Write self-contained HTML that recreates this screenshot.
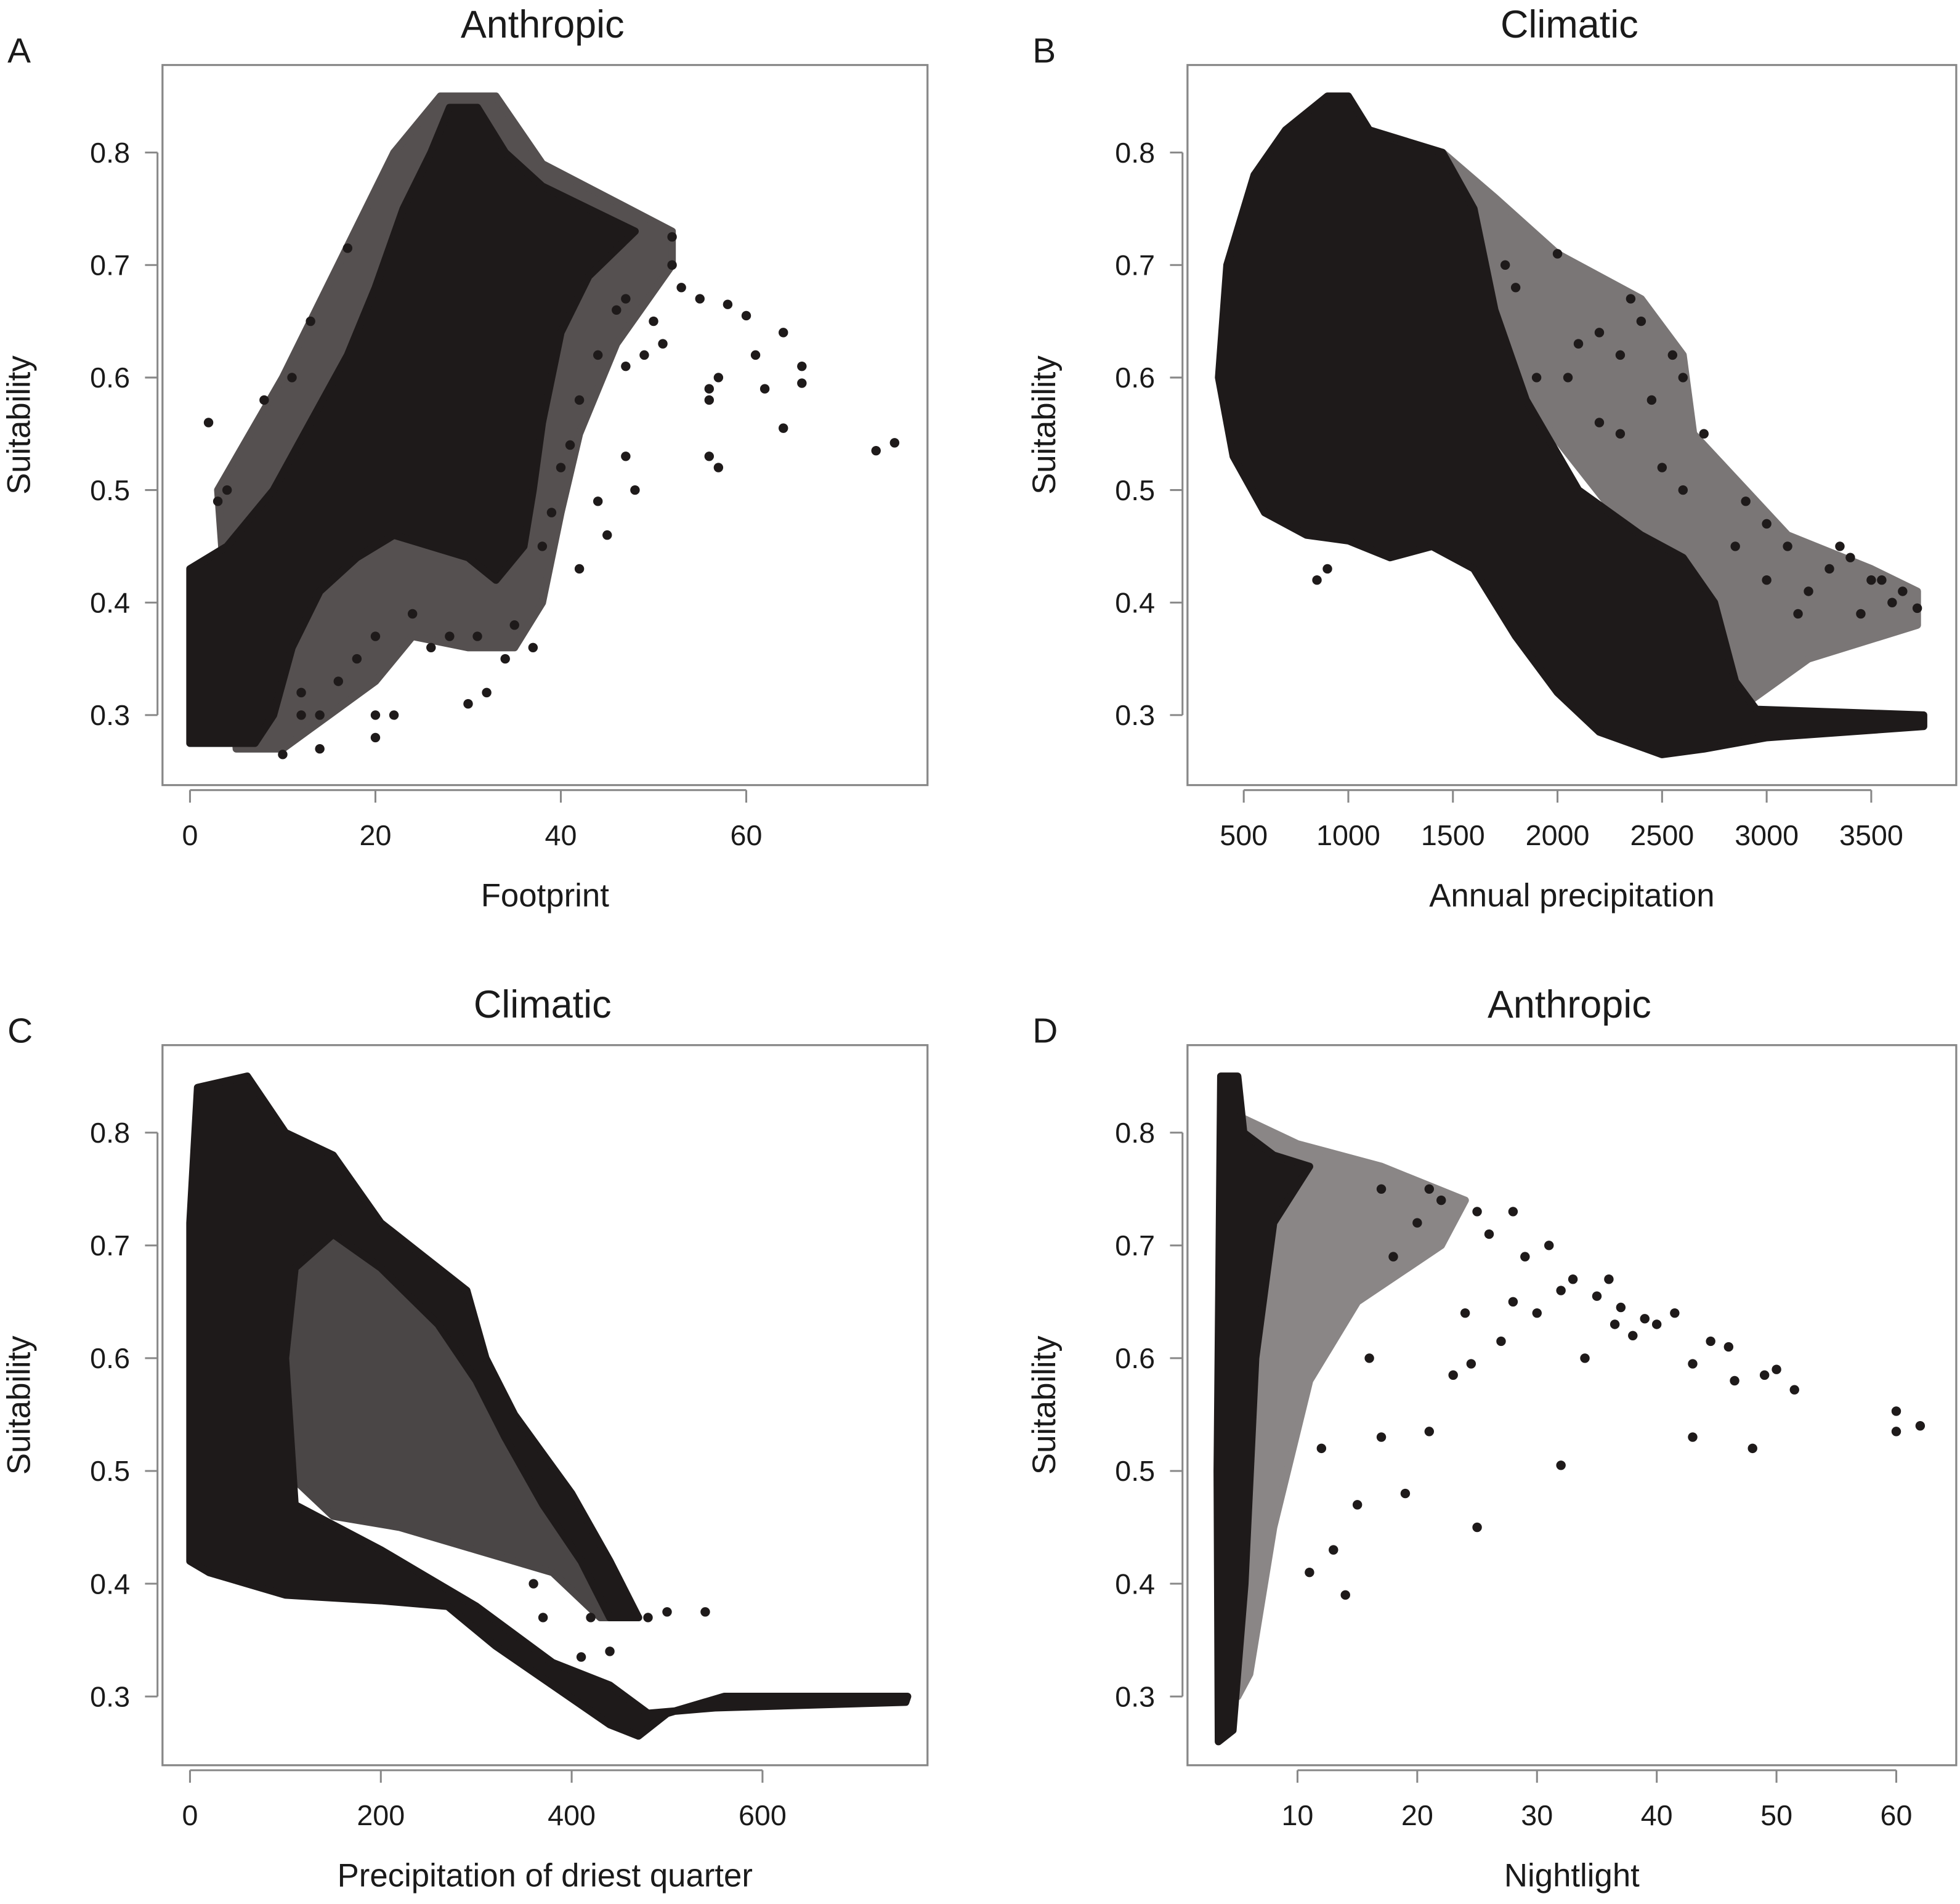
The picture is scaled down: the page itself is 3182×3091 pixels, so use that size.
<!DOCTYPE html>
<html><head><meta charset="utf-8"><style>
html,body{margin:0;padding:0;background:#fff;}
svg{display:block;}
text{font-family:"Liberation Sans",sans-serif;fill:#1a1a1a;}
</style></head><body>
<svg id="chart" width="3182" height="3091" viewBox="0 0 1568 1523" preserveAspectRatio="none" xmlns="http://www.w3.org/2000/svg"></svg>
<script>
// ---- Panel A data (Footprint) ----
const aMid = [[3,0.5],[10,0.6],[16,0.7],[22,0.8],[27,0.85],[33,0.85],[38,0.79],[45,0.76],[52,0.73],[52,0.7],[46,0.63],[42,0.55],[40,0.48],[38,0.4],[35,0.36],[30,0.36],[24,0.37],[20,0.33],[15,0.3],[10,0.27],[5,0.27]];
const aDense = [[0,0.275],[0,0.43],[4,0.45],[9,0.5],[13,0.56],[17,0.62],[20,0.68],[23,0.75],[26,0.8],[28,0.84],[31,0.84],[34,0.8],[38,0.77],[43,0.75],[48,0.73],[43,0.69],[40,0.64],[38,0.56],[37,0.5],[36,0.45],[33,0.42],[30,0.44],[26,0.45],[22,0.46],[18,0.44],[14,0.41],[11,0.36],[9,0.3],[7,0.275],[3,0.275]];
const aPts = [[74,0.535],[76,0.542],[66,0.61],[66,0.595],[64,0.64],[60,0.655],[57,0.52],[56,0.53],[56,0.58],[52,0.725],[48,0.5],[47,0.53],[42,0.43],[37,0.36],[32,0.32],[30,0.31],[20,0.28],[14,0.27],[10,0.265],[2,0.56],[22,0.3],[20,0.3],[47,0.61],[50,0.65],[53,0.68],[55,0.67],[62,0.59],[64,0.555],[40,0.52],[44,0.49],[41,0.54],[35,0.38],[28,0.37],[18,0.35],[16,0.33],[44,0.62],[58,0.665],[45,0.46],[42,0.58],[46,0.66],[49,0.62],[51,0.63],[56,0.59],[38,0.45],[39,0.48],[34,0.35],[31,0.37],[26,0.36],[24,0.39],[20,0.37],[14,0.3],[12,0.32],[17,0.715],[13,0.65],[11,0.6],[8,0.58],[4,0.5],[3,0.49],[12,0.3],[47,0.67],[52,0.7],[61,0.62],[57,0.6]];
const aXT=[0,20,40,60], yT=[0.3,0.4,0.5,0.6,0.7,0.8];
// ---- Panel B data (Annual precipitation) ----
const bMid = [[1450,0.8],[1700,0.76],[2000,0.71],[2400,0.67],[2600,0.62],[2650,0.55],[2900,0.5],[3100,0.46],[3500,0.43],[3720,0.41],[3720,0.38],[3200,0.35],[2900,0.31],[2400,0.45],[1850,0.58]];
const bDense = [[380,0.6],[420,0.7],[550,0.78],[700,0.82],[900,0.85],[1000,0.85],[1100,0.82],[1450,0.8],[1600,0.75],[1700,0.66],[1850,0.58],[2100,0.5],[2400,0.46],[2600,0.44],[2750,0.4],[2850,0.33],[2950,0.305],[3750,0.3],[3750,0.29],[3000,0.28],[2700,0.27],[2500,0.265],[2200,0.285],[2000,0.32],[1800,0.37],[1600,0.43],[1400,0.45],[1200,0.44],[1000,0.455],[800,0.46],[600,0.48],[450,0.53]];
const bPts = [[2000,0.71],[2350,0.67],[2550,0.62],[2600,0.6],[2200,0.64],[2100,0.63],[2450,0.58],[2300,0.55],[2700,0.55],[2900,0.49],[3000,0.47],[3100,0.45],[3300,0.43],[3500,0.42],[3650,0.41],[3720,0.395],[3200,0.41],[2850,0.45],[1800,0.68],[1900,0.6],[2200,0.56],[2500,0.52],[2600,0.5],[3400,0.44],[3550,0.42],[3000,0.42],[900,0.43],[850,0.42],[2050,0.6],[2300,0.62],[2400,0.65],[3150,0.39],[3350,0.45],[3600,0.4],[3450,0.39],[1750,0.7]];
const bXT=[500,1000,1500,2000,2500,3000,3500];
// ---- Panel C data (Precipitation of driest quarter) ----
const cMid = [[100,0.78],[200,0.72],[270,0.67],[300,0.62],[330,0.55],[400,0.47],[470,0.37],[430,0.37],[380,0.41],[300,0.43],[220,0.45],[150,0.46],[100,0.5]];
const cDense = [[0,0.42],[0,0.72],[8,0.84],[60,0.85],[100,0.8],[150,0.78],[200,0.72],[260,0.68],[290,0.66],[310,0.6],[340,0.55],[400,0.48],[440,0.42],[470,0.37],[440,0.37],[410,0.42],[370,0.47],[330,0.53],[300,0.58],[260,0.63],[200,0.68],[150,0.71],[110,0.68],[100,0.6],[110,0.47],[200,0.43],[240,0.41],[300,0.38],[380,0.33],[440,0.31],[480,0.285],[550,0.29],[750,0.295],[752,0.3],[560,0.3],[500,0.285],[470,0.265],[440,0.275],[380,0.31],[320,0.345],[270,0.38],[200,0.385],[100,0.39],[20,0.41]];
const cPts = [[480,0.37],[500,0.375],[540,0.375],[420,0.37],[440,0.34],[410,0.335],[360,0.4],[370,0.37]];
const cXT=[0,200,400,600];
// ---- Panel D data (Nightlight) ----
const dMid = [[4,0.82],[10,0.79],[17,0.77],[24,0.74],[22,0.7],[15,0.65],[11,0.58],[8,0.45],[6,0.32],[5,0.3]];
const dDense = [[3.4,0.26],[3.3,0.5],[3.6,0.85],[5,0.85],[5.5,0.8],[8,0.78],[11,0.77],[8,0.72],[6.5,0.6],[5.6,0.4],[4.6,0.27]];
const dPts = [[62,0.54],[60,0.553],[60,0.535],[51.5,0.572],[50,0.59],[49,0.585],[48,0.52],[46.5,0.58],[46,0.61],[44.5,0.615],[43,0.595],[43,0.53],[40,0.63],[39,0.635],[38,0.62],[37,0.645],[36,0.67],[35,0.655],[33,0.67],[32,0.66],[31,0.7],[30,0.64],[29,0.69],[28,0.65],[27,0.615],[26,0.71],[25,0.73],[24,0.64],[23,0.585],[22,0.74],[21,0.535],[20,0.72],[19,0.48],[18,0.69],[17,0.53],[16,0.6],[15,0.47],[14,0.39],[13,0.43],[12,0.52],[11,0.41],[25,0.45],[24.5,0.595],[32,0.505],[28,0.73],[21,0.75],[17,0.75],[34,0.6],[41.5,0.64],[36.5,0.63]];
const dXT=[10,20,30,40,50,60];

const svg=document.getElementById('chart');
const NS='http://www.w3.org/2000/svg';
function mk(tag,attrs,parent){const e=document.createElementNS(NS,tag);for(const k in attrs)e.setAttribute(k,attrs[k]);(parent||svg).appendChild(e);return e;}

function panel(cfg){
  const g=mk('g',{});
  
  
  const sx=v=>cfg.x0px+(v-cfg.x0)*(cfg.x1px-cfg.x0px)/(cfg.x1-cfg.x0);
  const sy=v=>cfg.y03+(v-0.3)*(cfg.y08-cfg.y03)/0.5;
  const box=mk('rect',{x:cfg.bx,y:cfg.by,width:cfg.bw,height:cfg.bh,fill:'none',stroke:'#888',"stroke-width":1.6},g);
  
  
  const t=mk('text',{x:cfg.bx+cfg.bw/2-2,y:cfg.by-22,'font-size':31,'text-anchor':'middle'},g);t.textContent=cfg.title;
  
  
  const l=mk('text',{x:cfg.bx-124,y:cfg.by-2,'font-size':28},g);l.textContent=cfg.letter;
  
  
  const mid=mk('polygon',{points:cfg.mid.map(p=>sx(p[0])+','+sy(p[1])).join(' '),fill:cfg.midColor,stroke:cfg.midColor,'stroke-width':6,'stroke-linejoin':'round'},g);
  
  
  const poly=mk('polygon',{points:cfg.dense.map(p=>sx(p[0])+','+sy(p[1])).join(' '),fill:'#1e1a1a',stroke:'#1e1a1a','stroke-width':6,'stroke-linejoin':'round'},g);
  
  
  cfg.pts.forEach(p=>{const c=mk('circle',{cx:sx(p[0]),cy:sy(p[1]),r:3.8,fill:'#1e1a1a'},g);
    
    });
  const ax=mk('line',{x1:sx(cfg.xt[0]),x2:sx(cfg.xt[cfg.xt.length-1]),y1:cfg.by+cfg.bh+4,y2:cfg.by+cfg.bh+4,stroke:'#888','stroke-width':1.5},g);
  
  
  cfg.xt.forEach(v=>{mk('line',{x1:sx(v),x2:sx(v),y1:cfg.by+cfg.bh+4,y2:cfg.by+cfg.bh+14,stroke:'#888','stroke-width':1.5},g);
    const tx=mk('text',{x:sx(v),y:cfg.by+cfg.bh+48,'font-size':23,'text-anchor':'middle'},g);tx.textContent=v;
    
    });
  const ay=mk('line',{x1:cfg.bx-4,x2:cfg.bx-4,y1:sy(0.3),y2:sy(0.8),stroke:'#888','stroke-width':1.5},g);
  
  
  yT.forEach(v=>{mk('line',{x1:cfg.bx-14,x2:cfg.bx-4,y1:sy(v),y2:sy(v),stroke:'#888','stroke-width':1.5},g);
    const ty=mk('text',{x:cfg.bx-26,y:sy(v)+8,'font-size':23,'text-anchor':'end'},g);ty.textContent=v.toFixed(1);
    
    });
  const xl=mk('text',{x:cfg.bx+cfg.bw/2,y:cfg.by+cfg.bh+97,'font-size':26,'text-anchor':'middle'},g);xl.textContent=cfg.xlabel;
  
  
  const yl=mk('text',{x:0,y:0,'font-size':26,'text-anchor':'middle',transform:'translate('+(cfg.bx-106)+','+(cfg.by+cfg.bh/2)+') rotate(-90)'},g);yl.textContent='Suitability';
  
  
}
panel({id:'a',title:'Anthropic',letter:'A',bx:130,by:52,bw:612,bh:576,x0:0,x1:60,x0px:152,x1px:597,y03:572,y08:122,mid:aMid,midColor:'#555050',dense:aDense,pts:aPts,xt:aXT,xlabel:'Footprint'});
panel({id:'b',title:'Climatic',letter:'B',bx:950,by:52,bw:615,bh:576,x0:500,x1:3500,x0px:995,x1px:1497,y03:572,y08:122,mid:bMid,midColor:'#7a7676',dense:bDense,pts:bPts,xt:bXT,xlabel:'Annual precipitation'});
panel({id:'c',title:'Climatic',letter:'C',bx:130,by:836,bw:612,bh:576,x0:0,x1:600,x0px:152,x1px:610,y03:1357,y08:906,mid:cMid,midColor:'#4a4646',dense:cDense,pts:cPts,xt:cXT,xlabel:'Precipitation of driest quarter'});
panel({id:'d',title:'Anthropic',letter:'D',bx:950,by:836,bw:615,bh:576,x0:10,x1:60,x0px:1038,x1px:1517,y03:1357,y08:906,mid:dMid,midColor:'#8a8686',dense:dDense,pts:dPts,xt:dXT,xlabel:'Nightlight'});
</script>
</body></html>
